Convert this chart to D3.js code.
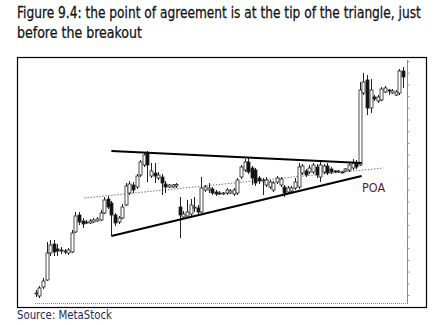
<!DOCTYPE html>
<html>
<head>
<meta charset="utf-8">
<script src="https://cdn.jsdelivr.net/npm/d3@7"></script>
<style>
  body { margin: 0; background: #fff; }
</style>
</head>
<body>
<div id="chart"></div>
<script>
// daily candles, price in cents above the chart floor
var opens = [10,7,16,23,50,59,54,53,52,50, 51,71,88,82,81,80,81,82,83,90,
  104,100,88,81,85,98,110,118,116,128, 138,150,127,130,125,126,119,116,116,117,
  96,86,87,89,95,95,91,113,113,114, 111,110,109,110,110,109,110,126,133,141,
  135,133,125,122,118,116,113,121,118,116, 111,112,115,116,130,132,131,131,136,126,
  131,137,134,132,131,131,132,133,135,140, 138,210,223,195,206,202,203,211,213,210,
  208,210,232];
var highs = [13,17,25,61,63,63,59,56,54,55, 73,91,91,85,83,84,85,86,93,106,
  107,102,90,87,99,120,122,121,129,143, 151,152,140,140,131,129,122,119,119,120,
  106,92,103,104,106,98,126,118,120,116, 113,112,111,115,114,115,125,138,144,146,
  137,135,127,125,126,123,122,127,126,118, 117,117,125,140,139,134,138,140,139,141,
  139,140,136,133,133,132,135,140,144,143, 221,230,228,224,208,208,216,217,214,214,
  213,234,236];
var lows = [6,5,14,22,47,47,47,49,49,48, 50,70,78,75,79,79,80,81,82,89,
  94,67,77,79,84,97,108,110,114,126, 136,121,125,120,123,108,110,115,115,115,
  65,84,85,87,91,89,90,111,110,108, 107,108,108,108,109,107,108,124,131,129,
  118,117,119,108,116,114,111,119,116,106, 109,111,113,114,128,126,129,129,125,121,
  129,128,129,130,130,130,131,131,133,134, 137,208,188,190,202,200,202,210,208,209,
  207,208,215];
var closes = [10,15,22,50,58,51,52,52,51.5,53, 70,87,81,79,80.5,82,83,84,90,103,
  96,88,80,85,96,117,119,113,127,141, 148,138,132,127,128,120,116,118,118,118.5,
  88,89,91,98,96,91,115,116,115,110, 109,109.5,110,113,112,113,123,136,141,131,
  125,120,122,123,123,121,120,125,124,110, 115,115,121,136,137,128,135,138,128,138,
  137,130,131,131,132,130.5,134,138,140,136, 213,221,195,213,204,206,214,215,212.5,212,
  211,232,226];

// trend lines as [bar index, price]
var resistance = [[21, 152], [90.5, 140]];
var support = [[21, 67], [90.5, 127]];
var drift = [[13.5, 105], [96.5, 135]];

var titleLines = ['Figure 9.4: the point of agreement is at the tip of the triangle, just',
  'before the breakout'];
var sourceText = 'Source: MetaStock';
var poaLabel = 'POA';

var width = 435;
var height = 325;
var plot = { left: 34, right: 408.4, top: 53, bottom: 303 };

var svg = d3.select('#chart').append('svg')
    .attr('width', width)
    .attr('height', height);

var titleFont = '"Liberation Sans Narrow", "DejaVu Sans Condensed", "Roboto Condensed", sans-serif';

// squeeze a text horizontally so it spans a given width (condensed face look)
function fitText(px, py, str, size, fill, span, heavy) {
    var grp = svg.append('g');
    var t = grp.append('text')
        .attr('x', 0).attr('y', 0)
        .style('font-family', titleFont).style('font-size', size + 'px')
        .attr('fill', fill)
        .text(str);
    if (heavy) t.attr('stroke', fill).attr('stroke-width', 0.25);
    var natural = t.node().getComputedTextLength();
    grp.attr('transform', 'translate(' + px + ',' + py + ') scale(' + (span / natural) + ',1)');
    return grp;
}

// title
fitText(17, 18, titleLines[0], 15, '#111', 404, true);
fitText(17, 38, titleLines[1], 15, '#111', 125, true);

// outer frame
svg.append('rect')
    .attr('x', 17.5).attr('y', 57.5)
    .attr('width', 409).attr('height', 250)
    .attr('fill', 'none').attr('stroke', '#000').attr('stroke-width', 1.2);

fitText(17, 318.5, sourceText, 11.5, '#1b2a5c', 95, false);

var data = opens.map(function (o, i) {
    return { i: i, open: o, high: highs[i], low: lows[i], close: closes[i] };
});

var x = d3.scaleBand()
    .domain(d3.range(data.length + 1))
    .range([plot.left, plot.right]);
var xl = d3.scaleLinear()
    .domain([-0.5, data.length + 0.5])
    .range([plot.left, plot.right]);
var y = d3.scaleLinear()
    .domain([0, 250])
    .range([plot.bottom, plot.top]);

var g = svg.append('g');

// bottom dotted axis
g.append('line')
    .attr('x1', plot.left + 1).attr('x2', plot.right)
    .attr('y1', y(0) + 0.5).attr('y2', y(0) + 0.5)
    .attr('stroke', '#888').attr('stroke-dasharray', '1,1');

// right price axis, no labels
var yAxis = d3.axisRight(y)
    .tickValues(d3.range(8, 245, 11.7))
    .tickSize(2)
    .tickFormat('');
var yAxis_g = g.append('g')
    .attr('transform', 'translate(' + (Math.round(plot.right) - 0.5) + ',0)')
    .call(yAxis);
yAxis_g.select('.domain').attr('stroke', '#888').attr('d', 'M0,' + y(243) + 'V' + y(0));
yAxis_g.selectAll('.tick line').attr('stroke', '#999');

// dotted drift line
var line = d3.line()
    .x(function (d) { return xl(d[0]); })
    .y(function (d) { return y(d[1]); });

g.append('path')
    .datum(drift)
    .attr('d', line)
    .attr('fill', 'none')
    .attr('stroke', '#666')
    .attr('stroke-width', 0.9)
    .attr('stroke-dasharray', '1.5,1.5');

// candles
function cx(d) { return Math.round(x(d.i) + x.bandwidth() / 2) + 0.5; }

var candles = g.selectAll('.candle')
    .data(data)
    .enter()
    .append('g')
    .attr('class', 'candle');

candles.append('line')
    .attr('x1', cx).attr('x2', cx)
    .attr('y1', function (d) { return y(d.high); })
    .attr('y2', function (d) { return y(d.low); })
    .attr('stroke', '#222').attr('stroke-width', 1);

candles.append('rect')
    .attr('x', function (d) { return cx(d) - 1.5; })
    .attr('width', 3)
    .attr('y', function (d) { return y(Math.max(d.open, d.close)); })
    .attr('height', function (d) { return Math.max(1, Math.abs(y(d.open) - y(d.close))); })
    .attr('fill', function (d) { return d.close >= d.open ? '#fff' : '#111'; })
    .attr('stroke', '#222')
    .attr('stroke-width', 0.8);

// triangle lines
g.append('path')
    .datum(resistance)
    .attr('d', line)
    .attr('fill', 'none').attr('stroke', '#000').attr('stroke-width', 2);
g.append('path')
    .datum(support)
    .attr('d', line)
    .attr('fill', 'none').attr('stroke', '#000').attr('stroke-width', 2);

g.append('text')
    .attr('x', 362).attr('y', 192)
    .style('font-family', titleFont).style('font-size', '12.5px')
    .attr('fill', '#5a1c2c')
    .text(poaLabel);
</script>
</body>
</html>
